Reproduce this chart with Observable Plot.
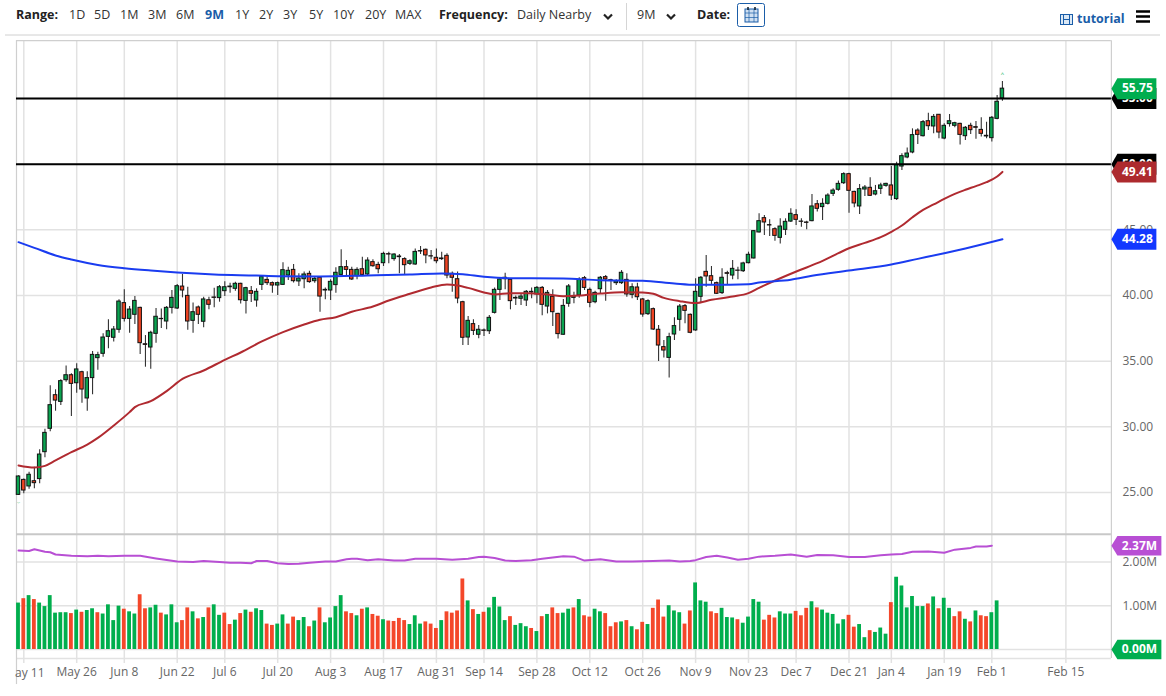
<!DOCTYPE html>
<html><head><meta charset="utf-8">
<script src="https://cdn.jsdelivr.net/npm/d3@7"></script>
<script src="https://cdn.jsdelivr.net/npm/@observablehq/plot@0.6"></script>
<style>
html,body{margin:0;padding:0;background:#fff;overflow:hidden}
#page{position:relative;width:1166px;height:696px;font-family:"Open Sans",sans-serif;color:#333}
#page span.h{position:absolute;top:6px;font-size:12.5px;line-height:18px;white-space:nowrap}
</style></head><body><div id="page"></div>
<script>
const opens=[24.82,25.96,25.46,25.86,26.02,28.07,29.85,32.41,31.90,33.55,
33.93,33.32,34.16,32.16,33.71,35.23,35.56,36.85,36.78,37.39,
39.42,38.22,38.53,39.06,36.29,36.04,37.08,38.22,38.02,39.06,
39.01,40.68,39.97,38.07,39.09,38.00,39.64,39.85,39.80,40.33,
40.68,40.51,40.89,39.59,40.33,39.62,40.81,41.19,40.94,40.76,
40.81,41.52,41.95,41.07,41.24,41.65,41.09,41.35,40.43,40.38,
40.79,41.57,42.16,41.95,41.47,42.00,41.60,42.54,42.33,42.46,
43.15,42.77,42.97,42.77,42.41,42.36,43.38,43.48,42.99,42.87,
42.82,43.02,41.65,41.24,39.49,36.80,37.82,37.01,37.34,37.28,
38.68,40.43,41.24,41.19,39.82,39.75,39.62,40.28,40.08,40.58,
39.16,39.90,38.60,37.01,39.37,39.82,40.00,41.32,40.43,39.49,
40.48,41.40,41.17,40.94,40.94,41.19,40.05,40.61,39.70,38.58,
38.96,37.39,36.07,35.25,37.03,38.15,39.19,38.53,37.34,39.90,
41.80,41.47,40.94,40.18,41.70,41.52,41.90,41.85,42.46,42.82,
44.80,45.89,45.36,45.05,44.39,45.00,45.63,46.12,45.63,45.56,
45.66,46.95,46.73,46.98,47.74,48.05,48.55,49.24,47.89,46.78,
48.07,48.20,47.69,48.12,48.35,48.38,47.34,49.82,50.51,50.89,
52.56,52.13,53.27,52.87,53.76,51.95,53.05,52.92,53.07,52.13,
52.92,52.82,52.61,52.16,51.98,53.45,55.00];
const closes=[26.22,25.15,26.35,25.71,27.89,29.54,31.65,32.00,33.48,33.93,
33.27,34.37,32.84,33.71,35.48,35.46,36.80,37.28,37.41,39.54,
38.22,38.93,39.59,36.37,36.24,37.16,38.38,38.20,39.06,39.82,
40.71,40.38,38.02,38.73,38.53,39.70,39.29,39.82,40.63,40.63,
40.63,40.89,39.64,40.56,40.13,40.28,41.40,40.94,40.76,40.94,
41.93,41.88,41.09,41.29,41.60,41.02,41.27,39.92,40.38,41.04,
41.73,42.16,41.95,41.22,41.95,41.57,42.66,42.23,42.00,43.17,
43.12,43.12,42.92,42.31,42.61,43.32,43.35,43.05,42.97,42.61,
42.77,41.52,41.35,39.77,36.78,38.07,37.31,37.39,37.31,38.30,
40.43,41.22,41.35,39.57,39.77,39.92,40.28,40.23,40.58,39.29,
40.20,38.73,37.06,39.21,40.69,39.95,41.19,40.58,39.44,40.20,
41.35,41.22,41.14,41.07,41.73,40.08,40.63,39.87,38.55,39.57,
37.41,36.19,35.81,36.83,37.67,39.16,38.83,37.16,40.28,41.35,
41.45,41.12,40.13,41.35,41.65,42.03,41.88,42.44,43.10,44.90,
45.66,45.56,45.33,44.54,45.25,45.61,46.22,45.76,45.61,45.53,
46.78,46.60,46.98,47.61,47.99,48.50,49.24,47.97,47.01,48.10,
48.22,47.59,47.94,48.38,48.50,47.61,49.92,50.61,50.81,52.21,
52.23,53.20,52.89,53.60,52.41,52.92,53.27,53.12,52.23,52.77,
52.59,52.77,52.31,52.11,53.53,54.75,55.75];
const highs=[26.27,26.02,26.55,26.93,28.25,29.82,33.12,32.82,33.58,34.64,
34.04,34.80,34.24,34.19,35.74,35.68,37.08,38.15,37.64,39.67,
40.43,39.16,39.92,39.11,36.95,37.28,39.01,38.98,39.16,40.38,
40.84,41.60,40.63,39.42,39.21,39.87,39.87,40.56,40.76,41.04,
40.94,41.01,40.94,40.63,40.68,40.51,41.52,41.40,41.02,41.02,
42.49,42.16,42.36,41.65,41.78,41.85,41.40,41.40,40.58,41.19,
42.11,43.48,42.66,42.16,42.11,42.92,42.87,42.72,42.54,43.30,
43.30,43.17,43.12,42.87,42.72,43.55,43.73,43.55,43.43,43.55,
43.30,43.17,41.78,41.78,39.57,38.40,38.15,37.72,37.44,38.48,
40.58,41.35,41.70,41.27,39.97,40.13,40.38,40.58,40.69,40.69,
40.38,40.43,38.65,39.70,40.84,40.25,41.35,41.45,40.58,40.33,
41.45,41.52,41.24,41.19,41.90,41.65,40.89,40.94,39.77,39.67,
39.04,37.72,36.57,37.13,38.30,39.31,39.31,38.60,41.27,41.45,
43.05,42.21,41.02,42.03,41.85,42.66,42.16,42.54,43.30,44.95,
46.22,46.09,45.76,45.15,45.84,45.84,46.60,46.52,45.84,45.66,
47.69,47.23,47.36,47.74,48.12,48.71,49.34,49.31,47.94,48.45,
48.38,48.96,48.38,48.55,48.55,49.82,50.15,50.79,51.24,52.69,
52.69,53.32,53.88,53.78,53.78,53.07,53.78,53.20,53.12,52.87,
53.12,53.25,53.53,53.20,53.63,55.23,56.29];
const lows=[24.77,24.90,25.25,25.28,25.66,27.64,29.62,31.19,31.62,33.40,
30.79,32.56,31.80,31.19,32.44,34.31,35.30,35.94,36.45,37.13,
37.99,37.13,37.79,35.51,34.54,34.39,36.37,37.49,37.39,38.60,
38.93,39.82,37.36,37.13,37.79,37.54,38.91,39.06,39.49,39.92,
40.18,40.33,39.36,38.60,39.47,39.11,40.38,40.76,40.18,40.00,
40.76,41.14,40.96,40.69,40.51,40.94,40.94,38.73,39.67,39.62,
40.18,41.52,41.52,41.14,41.19,41.52,41.52,42.16,41.65,42.21,
42.41,42.61,41.65,41.52,42.28,42.31,43.12,42.41,42.72,42.41,
42.66,41.27,40.25,39.37,36.19,36.19,36.95,36.70,36.88,37.03,
38.60,39.62,40.43,38.91,39.24,39.24,39.16,39.75,39.37,38.45,
38.60,37.64,36.68,36.98,39.11,39.37,39.80,40.38,39.06,39.37,
40.13,39.57,40.38,40.76,40.84,39.87,39.75,39.62,38.35,38.48,
37.34,34.97,35.25,33.71,36.57,37.28,37.84,37.08,37.28,39.47,
40.63,40.84,40.08,40.08,40.84,41.19,41.19,41.75,42.41,42.77,
44.75,44.57,44.49,44.14,43.93,44.57,45.56,45.33,45.20,45.00,
45.61,46.35,45.71,46.90,47.54,47.94,48.45,46.27,46.68,46.17,
47.54,47.54,47.59,47.69,48.25,47.23,47.23,49.52,50.41,50.79,
51.50,52.06,52.56,52.31,51.93,51.85,52.82,52.77,51.45,51.80,
52.26,51.90,52.06,51.93,51.68,53.38,54.80];
const volumes=[1.06,1.16,1.23,1.14,1.06,.98,1.23,.83,.84,.84,
.82,.90,.85,.89,.93,.84,.81,1.02,.66,.99,
.92,.86,.81,1.25,.93,.95,1.01,.83,.79,1.02,
.61,.66,.95,.86,.70,.73,.95,1.02,.78,.83,
.57,.67,.82,.90,.85,.93,.89,.58,.55,.58,
.79,.58,.74,.66,.73,.52,.65,.95,.61,.72,
.98,1.23,.86,.82,.77,.92,.95,.80,.76,.68,
.65,.64,.71,.66,.57,.77,.58,.63,.58,.48,
.66,.86,.83,.88,1.61,1.11,.91,.80,.85,.95,
1.19,.97,.66,.75,.55,.59,.52,.48,.41,.75,
.80,.95,.82,.83,.92,.95,1.14,.77,.74,.92,
.86,.82,.52,.61,.63,.66,.52,.45,.62,.57,
.94,1.13,.74,1.00,.88,.84,.58,.88,1.52,1.11,
1.08,.86,.82,.94,.73,.72,.68,.60,.74,1.14,
1.08,.67,.78,.72,.86,.81,.81,.87,.77,.94,
1.09,.95,.90,.83,.80,.58,.68,.78,.51,.57,
.27,.43,.39,.49,.35,1.07,1.65,1.45,.95,1.21,
.98,.98,1.04,1.20,.93,1.17,.94,.75,.86,.69,
.63,.88,.77,.75,.84,1.11];
const volumeDirs=("GRGRGGGGGG"+"RGRGGRGGGG"+"RGGRRGGRGG"+"GRRGRGRGGR"+"RGRGRGGRRG"+
"GRRGGRGRGG"+"GGRRGRGRRG"+"RRRRGGGRRR"+"GRRRRGRGRG"+"GGGRGGGRGR"+
"GRRGGRGRRG"+"GRRRGRGRRG"+"RRRGGGRRGG"+"GRRGGGRGGG"+"GRRRGGGRRR"+
"GRGGGGGRRG"+"GRGGGRGGGG"+"GGRGRGGRRG"+"RGRRGG").split("");
const redIdx=[0,3,5,7,10,13,15,18,21,22,25,28,31,35,39,42,46,50,54,57,60,63,67,70,74,78,81,83,85,88,90,93,96,100,103,106,110,114,118,120,122,125,128,131,135,138,140,147.5,151,155,157,160,163,165,167,169,171,173,175,177,179,181,183,185,186];
const redVals=[27.06,26.90,27.03,27.44,28.07,28.65,29.16,30.10,31.12,31.50,31.95,32.72,33.65,34.29,35.10,35.66,36.50,37.21,37.79,38.15,38.35,38.76,39.16,39.62,40.13,40.61,40.84,40.76,40.58,40.23,40.08,40.18,40.18,40.08,39.95,40.00,40.15,40.25,40.23,40.13,39.82,39.57,39.42,39.67,39.92,40.18,40.58,41.90,42.46,43.22,43.60,44.01,44.44,44.85,45.33,45.96,46.52,46.93,47.36,47.74,48.05,48.33,48.63,49.06,49.41];
const blueIdx=[0,3,7,10,15,20,25,30,37,45,49,57,66,74,80,84,88,93,97,103,110,118,124,128,131,138,140,146,150,157,165,170,175,179,186];
const blueVals=[44.06,43.63,43.05,42.74,42.33,42.08,41.90,41.75,41.60,41.52,41.47,41.45,41.52,41.60,41.68,41.62,41.42,41.32,41.32,41.29,41.17,41.12,40.91,40.81,40.81,40.86,40.99,41.20,41.50,41.90,42.36,42.79,43.22,43.58,44.28];
const purpleIdx=[0,2,3,5,6,7,10,13,15,17,20,23,26,30,33,35,38,40,42,44,45,47,49,51,53,55,58,60,62,63,64,66,68,71,73,75,79,82,85,87,88,90,92,94,97,99,103,105,107,110,113,116,120,123,125,127,128,130,132,134,136,138,140,143,146,149,151,154,157,160,163,165,167,169,172,175,177,180,181,183,184];
const purpleVals=[2.26,2.25,2.29,2.23,2.22,2.17,2.14,2.13,2.14,2.13,2.14,2.14,2.08,2.01,2.00,2.02,2.00,1.98,1.98,1.97,2.02,2.02,1.97,1.95,1.96,1.98,2.01,2.01,2.06,2.07,2.07,2.04,2.06,2.03,2.03,2.07,2.07,2.05,2.07,2.11,2.12,2.09,2.03,2.02,2.04,2.07,2.13,2.12,2.03,2.06,2.01,2.01,2.02,2.03,2.01,2.02,2.04,2.11,2.14,2.10,2.05,2.07,2.12,2.14,2.17,2.12,2.16,2.15,2.11,2.11,2.15,2.17,2.18,2.23,2.24,2.21,2.28,2.32,2.35,2.35,2.37];
const tickIdx=[11,20,30,39,49,59,69,79,88,98,108,118,128,138,147,157,165,175,184,198];
const tickLabels=["May 26","Jun 8","Jun 22","Jul 6","Jul 20","Aug 3","Aug 17","Aug 31","Sep 14","Sep 28","Oct 12","Oct 26","Nov 9","Nov 23","Dec 7","Dec 21","Jan 4","Jan 19","Feb 1","Feb 15"];
const clippedTickIdx=[1], clippedTickLabel=["ay 11"];
const priceTicks=[25,30,35,40,45,50,55];
const levelLines=[50,55];
const levelTagValues=[55,50];
const levelTagLabels=["55.00","50.00"];
const priceTagValues=[55.75,49.41,44.28];
const priceTagLabels=["55.75","49.41","44.28"];
const priceTagColors=["#00ad4f","#ad2a2e","#1238ff"];
const volumeTicks=[0,1,2];
const volumeTagValues=[2.37,0];
const volumeTagLabels=["2.37M","0.00M"];
const volumeTagColors=["#b84fd4","#00ad4f"];

const UP="#0aa350",DOWN="#ee4322",VUP="#00ae4d",VDOWN="#f4472a";
const W=1166, XDOM=[0,198], XRNG=[18,1065.4];
const xLeft=-0.38, xRight=206.6;
const page=document.getElementById("page");

function tag(w,h){const c=6;return {draw(p){p.moveTo(0,0);p.lineTo(c,-h/2);p.lineTo(w,-h/2);p.lineTo(w,h/2);p.lineTo(c,h/2);p.closePath();}};}

const candles=opens.map((o,i)=>({i,o,c:closes[i],h:highs[i],l:lows[i],up:closes[i]>=o}));
const vols=volumes.map((v,i)=>({i,v,dir:volumeDirs[i]}));
const toPts=(a,b)=>a.map((x,k)=>({x,y:b[k]}));
const levelTags=levelTagValues.map((v,k)=>({v,t:levelTagLabels[k]}));
const priceTags=priceTagValues.map((v,k)=>({v,t:priceTagLabels[k],c:priceTagColors[k]}));
const volTags=volumeTagValues.map((v,k)=>({v,t:volumeTagLabels[k],c:volumeTagColors[k]}));
const base={width:W,marginLeft:0,marginRight:54,style:{fontFamily:'"Open Sans",sans-serif',fontSize:"12px",background:"transparent",overflow:"visible",position:"absolute",left:"0"}};
const GRID="#e2e2e2";

const priceTop=59.4, priceBottom=21.8;
const price=Plot.plot({...base,height:494,marginTop:0,marginBottom:0,
  x:{domain:XDOM,range:XRNG,axis:null},
  y:{domain:[25,55],range:[452,58]},
  marks:[
    Plot.ruleX(tickIdx.concat(clippedTickIdx),{y1:priceBottom,y2:priceTop,stroke:GRID,strokeWidth:1.5}),
    Plot.ruleY(priceTicks,{x1:xLeft,x2:xRight,stroke:GRID,strokeWidth:1.5}),
    Plot.ruleX([xLeft,xRight],{y1:priceBottom,y2:priceTop,stroke:"#cfcfcf",strokeWidth:1.2}),
    Plot.ruleY([priceTop],{x1:xLeft,x2:xRight,stroke:"#cfcfcf",strokeWidth:1.2}),
    Plot.axisY({ticks:priceTicks,anchor:"right",tickSize:0,tickPadding:10,tickFormat:d3.format(".2f"),label:null,fill:"#666",fontSize:12}),
    Plot.ruleX(candles,{x:"i",y1:"l",y2:"h",stroke:"#333",strokeWidth:1.1}),
    Plot.rect(candles,{x1:d=>d.i-.33,x2:d=>d.i+.33,y1:"o",y2:"c",fill:d=>d.up?UP:DOWN,stroke:"#111",strokeWidth:1}),
    Plot.ruleY(levelLines,{x1:xLeft,x2:xRight,stroke:"#000",strokeWidth:2}),
    Plot.line(toPts(redIdx,redVals),{x:"x",y:"y",stroke:"#b02a30",strokeWidth:2,curve:"monotone-x"}),
    Plot.line(toPts(blueIdx,blueVals),{x:"x",y:"y",stroke:"#1a3cf0",strokeWidth:2,curve:"monotone-x"}),
    Plot.dot(levelTags,{x:()=>xRight,y:"v",fill:"#000",stroke:null,symbol:tag(45,21)}),
    Plot.text(levelTags,{x:()=>xRight,y:"v",text:"t",dx:26,fill:"#fff",fontWeight:"bold",fontSize:12}),
    Plot.dot(priceTags,{x:()=>xRight,y:"v",fill:"c",stroke:null,symbol:tag(45,21)}),
    Plot.text(priceTags,{x:()=>xRight,y:"v",text:"t",dx:26,fill:"#fff",fontWeight:"bold",fontSize:12}),
    Plot.text(["^"],{x:[186],y:[56.85],fill:"#00ad4f",fontSize:6}),
    Plot.text(["‿"],{x:[0],y:[24.6],dy:3,fill:"#00ad4f",fontSize:5})
  ]});
price.style.top="40px";
page.appendChild(price);

const vol=Plot.plot({...base,height:150,marginTop:0,marginBottom:26,
  x:{domain:XDOM,range:XRNG,axis:null},
  y:{domain:[0,2],range:[115,27.4]},
  marks:[
    Plot.ruleX(tickIdx.concat(clippedTickIdx),{y1:-0.32,y2:2.63,stroke:GRID,strokeWidth:1.5}),
    Plot.ruleY(volumeTicks,{x1:xLeft,x2:xRight,stroke:GRID,strokeWidth:1.5}),
    Plot.ruleY([-0.205],{x1:xLeft,x2:xRight,stroke:GRID,strokeWidth:1.5}),
    Plot.ruleX([xLeft],{y1:-0.8,y2:2.63,stroke:"#cfcfcf",strokeWidth:1.2}),
    Plot.ruleX([xRight],{y1:-0.205,y2:2.63,stroke:"#cfcfcf",strokeWidth:1.2}),
    Plot.ruleY([2.63],{x1:xLeft,x2:xRight,stroke:"#c8c8c8",strokeWidth:2}),
    Plot.axisY({ticks:volumeTicks,anchor:"right",tickSize:0,tickPadding:10,tickFormat:d=>d3.format(".2f")(d)+"M",label:null,fill:"#666",fontSize:12}),
    Plot.axisX({ticks:tickIdx,anchor:"bottom",tickSize:0,tickPadding:9,tickFormat:d=>tickLabels[tickIdx.indexOf(d)],label:null,fill:"#666",fontSize:12}),
    Plot.text(clippedTickLabel,{x:clippedTickIdx,y:[-0.548],dx:6,fill:"#666",fontSize:12}),
    Plot.rect(vols,{x1:d=>d.i-.36,x2:d=>d.i+.36,y1:0,y2:"v",fill:d=>d.dir==="G"?VUP:VDOWN}),
    Plot.line(toPts(purpleIdx,purpleVals),{x:"x",y:"y",stroke:"#b84fd4",strokeWidth:2}),
    Plot.dot(volTags,{x:()=>xRight,y:"v",fill:"c",stroke:null,symbol:tag(50,19.5)}),
    Plot.text(volTags,{x:()=>xRight,y:"v",text:"t",dx:28,fill:"#fff",fontWeight:"bold",fontSize:12})
  ]});
vol.style.top="534px";
page.appendChild(vol);

// toolbar
function span(t,x,o={}){const s=document.createElement("span");s.className="h";s.textContent=t;s.style.left=x+"px";if(o.b)s.style.fontWeight="bold";if(o.c)s.style.color=o.c;if(o.top)s.style.top=o.top+"px";page.appendChild(s);return s;}
const rangeLabels=["1D","5D","1M","3M","6M","9M","1Y","2Y","3Y","5Y","10Y","20Y","MAX"];
const rangeX=[69,94,120,148,176,205,235,259,283,309,333,365,395];
span("Range:",16,{b:1,c:"#222"});
rangeLabels.forEach((t,i)=>span(t,rangeX[i],t==="9M"?{b:1,c:"#1a5da8"}:{}));
span("Frequency:",439,{b:1,c:"#222"});
span("Daily Nearby",517);
span("9M",637);
span("Date:",697,{b:1,c:"#222"});
span("tutorial",1077,{b:1,c:"#1a5da8",top:10});
const deco=document.createElementNS("http://www.w3.org/2000/svg","svg");
deco.setAttribute("width",1166);deco.setAttribute("height",40);deco.style.cssText="position:absolute;left:0;top:0";
deco.innerHTML=`
<path d="M604 14.5l4 4 4-4M667 14.5l4 4 4-4" fill="none" stroke="#222" stroke-width="2.2"/>
<line x1="626.5" x2="626.5" y1="3" y2="30" stroke="#d5d5d5"/>
<rect x="737.5" y="3.5" width="27" height="23" rx="2" fill="#fff" stroke="#1a5da8"/>
<rect x="745" y="9" width="13" height="13" fill="#cfe0f2" stroke="#1a5da8"/>
<path d="M745 13h13M749 9v13M754 9v13M745 17.5h13" stroke="#1a5da8" stroke-width=".7"/>
<path d="M748 7v3M755 7v3" stroke="#123" stroke-width="1.6"/>
<rect x="1060.5" y="14.5" width="12" height="10" fill="#dbe8f5" stroke="#1a5da8"/>
<path d="M1063.5 14.5v10M1069.5 14.5v10M1063.5 19.5h6" stroke="#1a5da8"/>
<path d="M1136 11.5h14M1136 16.5h14M1136 21.5h14" stroke="#000" stroke-width="2.4"/>
<line x1="5" x2="1160" y1="35" y2="35" stroke="#d0d0d0"/>`;
page.appendChild(deco);
</script></body></html>
